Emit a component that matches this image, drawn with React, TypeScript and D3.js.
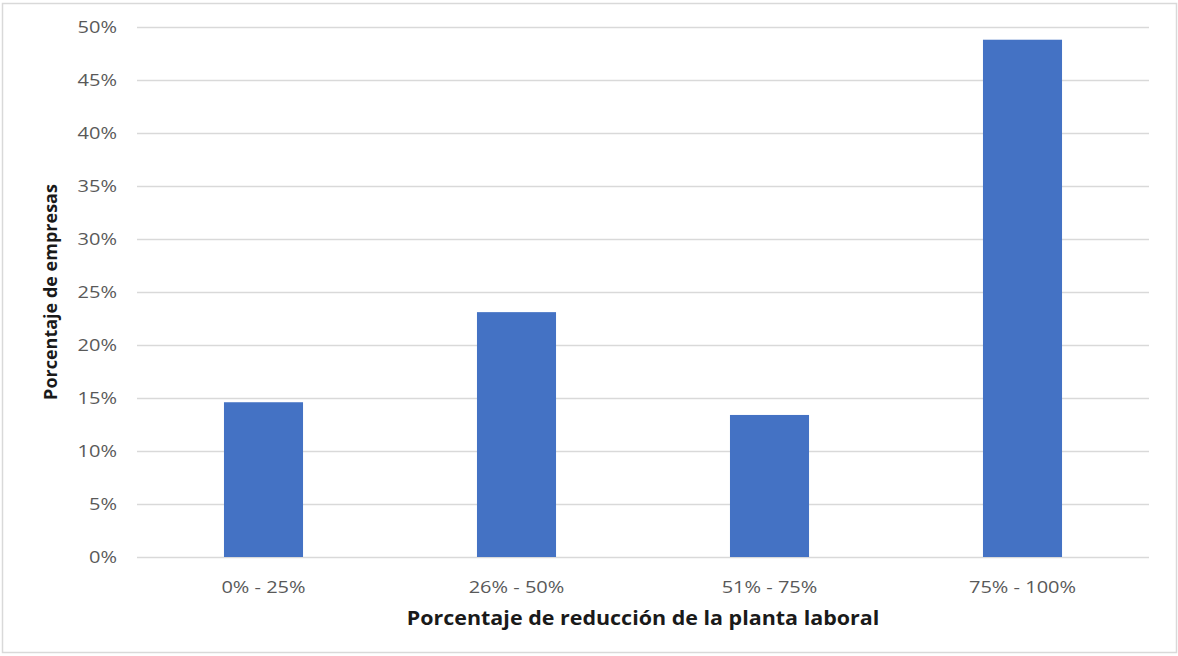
import * as d3 from 'd3';
import React, { useEffect, useRef } from 'react';

const categories = ['0% - 25%', '26% - 50%', '51% - 75%', '75% - 100%'];
const shares = [0.146, 0.231, 0.134, 0.488];
const yTicks = [0, 0.05, 0.1, 0.15, 0.2, 0.25, 0.3, 0.35, 0.4, 0.45, 0.5];

const xTitle = 'Porcentaje de reducción de la planta laboral';
const yTitle = 'Porcentaje de empresas';

const App: React.FC = () => {
  const ref = useRef<HTMLDivElement>(null);

  useEffect(() => {
    const width = 1178;
    const height = 656;
    const margin = { top: 27, right: 30, bottom: 99, left: 137 };
    const font = '"Open Sans", "Noto Sans", sans-serif';
    // the source image is stretched horizontally, so text is widened a bit
    const stretch = 1.25;

    const svg = d3
      .create('svg')
      .attr('width', width)
      .attr('height', height)
      .attr('viewBox', [0, 0, width, height])
      .style('display', 'block')
      .style('font-family', font);

    svg
      .append('rect')
      .attr('width', width)
      .attr('height', height)
      .attr('fill', '#fff');

    // outer chart border
    svg
      .append('rect')
      .attr('x', 2.5)
      .attr('y', 3.5)
      .attr('width', width - 4)
      .attr('height', height - 7)
      .attr('fill', 'none')
      .attr('stroke', '#d9d9d9')
      .attr('stroke-width', 1.5);

    const x = d3
      .scaleBand<string>()
      .domain(categories)
      .range([margin.left, width - margin.right + 1])
      .paddingInner(0.6875)
      .paddingOuter(0.34375);

    const y = d3
      .scaleLinear()
      .domain([0, 0.5])
      .range([height - margin.bottom, margin.top]);

    // gridlines
    svg
      .append('g')
      .selectAll('line')
      .data(yTicks)
      .join('line')
      .attr('x1', margin.left)
      .attr('x2', width - margin.right + 1)
      .attr('y1', d => Math.round(y(d)) + 0.5)
      .attr('y2', d => Math.round(y(d)) + 0.5)
      .attr('stroke', '#d9d9d9')
      .attr('stroke-width', 1.5);

    // y tick labels
    svg
      .append('g')
      .selectAll('text')
      .data(yTicks)
      .join('text')
      .attr('transform', d => `translate(117,${y(d)}) scale(${stretch},1)`)
      .attr('dy', '0.35em')
      .attr('text-anchor', 'end')
      .attr('fill', '#595959')
      .attr('font-size', 16)
      .text(d => d3.format('.0%')(d));

    // bars
    svg
      .append('g')
      .selectAll('rect')
      .data(shares)
      .join('rect')
      .attr('x', (_, i) => x(categories[i])!)
      .attr('width', x.bandwidth())
      .attr('y', d => y(d))
      .attr('height', d => y(0) - y(d))
      .attr('fill', '#4472c4');

    // x tick labels
    svg
      .append('g')
      .selectAll('text')
      .data(categories)
      .join('text')
      .attr('transform', d => `translate(${x(d)! + x.bandwidth() / 2},593) scale(${stretch},1)`)
      .attr('text-anchor', 'middle')
      .attr('fill', '#595959')
      .attr('font-size', 16)
      .text(d => d);

    // axis titles
    svg
      .append('text')
      .attr('transform', `translate(643,625) scale(1.13,1)`)
      .attr('text-anchor', 'middle')
      .attr('fill', '#1a1a1a')
      .attr('font-size', 19)
      .attr('font-weight', 'bold')
      .text(xTitle);

    svg
      .append('text')
      .attr('transform', 'translate(57,292) rotate(-90)')
      .attr('text-anchor', 'middle')
      .attr('fill', '#1a1a1a')
      .attr('font-size', 18)
      .attr('font-weight', 'bold')
      .text(yTitle);

    d3.select(ref.current).html('');
    d3.select(ref.current).append(() => svg.node());
  }, []);

  return <div ref={ref} style={{ position: 'absolute', left: 0, top: 0 }}></div>;
};

export default App;
